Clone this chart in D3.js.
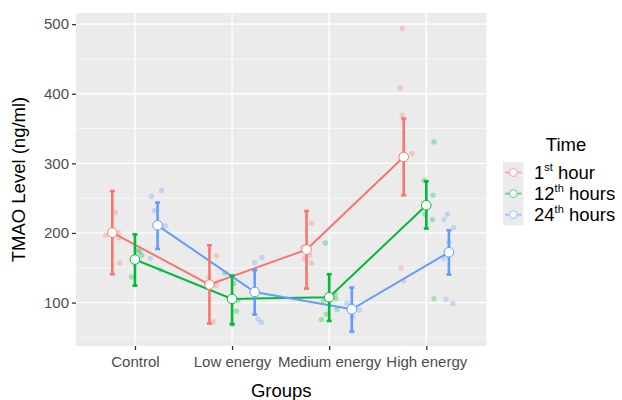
<!DOCTYPE html>
<html lang="en">
<head>
<meta charset="UTF-8">
<title>TMAO Level by group</title>
<script src="https://d3js.org/d3.v7.min.js"></script>
<style>
    body { margin: 0; padding: 0; background: #fff; }
    svg { display: block; font-family: "Liberation Sans", Arial, sans-serif; }
    .axis-title { fill: #000; font-size: 18.5px; }
</style>
</head>
<body>
<div id="chart"></div>
<script>
    const width = 622;
    const height = 400;

    // categories
    const groups = ["Control", "Low energy", "Medium energy", "High energy"];
    const timeKeys = ["1st", "12th", "24th"];
    const colors = ["#F8766D", "#00BA38", "#619CFF"];
    const yTicks = [100, 200, 300, 400, 500];

    // group means and error bar limits (ng/ml)
    const mean1st  = [200.5, 125.9, 176.1, 309.2];
    const mean12th = [161.8, 105.2, 107.6, 239.8];
    const mean24th = [211.0, 115.2,  90.4, 172.3];
    const lower1st  = [140.7, 69.8, 120.1, 254.2];
    const upper1st  = [260.3, 182.3, 231.6, 364.4];
    const lower12th = [124.4, 68.8, 73.6, 206.3];
    const upper12th = [198.0, 138.8, 140.7, 274.3];
    const lower24th = [177.0, 82.8, 58.3, 140.2];
    const upper24th = [243.7, 146.4, 121.6, 203.9];

    // individual samples: group index, value
    const raw1st = [
        [0, 229.3], [0, 196.3], [0, 200.3], [0, 192.8], [0, 156.9],
        [1, 167.5], [1, 136.8], [1, 124.9], [1, 72.4],
        [2, 214.4], [2, 179.9], [2, 168.0], [2, 163.2], [2, 156.9],
        [3, 493.7], [3, 408.3], [3, 369.1], [3, 314.1], [3, 149.7], [3, 130.6]
    ];
    const raw12th = [
        [0, 172.7], [0, 168.0], [0, 136.8], [0, 175.1],
        [1, 142.5], [1, 127.3], [1, 103.3], [1, 87.5], [1, 68.8],
        [2, 185.6], [2, 111.9], [2, 105.7], [2, 101.9], [2, 89.9], [2, 83.2], [2, 75.6],
        [3, 330.7], [3, 275.7], [3, 254.2], [3, 226.9], [3, 219.3], [3, 105.7]
    ];
    const raw24th = [
        [0, 252.7], [0, 260.9], [0, 231.9], [0, 210.1], [0, 163.2], [0, 147.4],
        [1, 157.5], [1, 164.7], [1, 76.0], [1, 71.7],
        [2, 99.4], [2, 95.1], [2, 88.9], [2, 79.3],
        [3, 226.9], [3, 219.3], [3, 207.8], [3, 187.1], [3, 163.2], [3, 104.7], [3, 98.6]
    ];
    // jitter, in category units
    const jitter1st = [0.03, -0.07, 0.065, 0.07, 0.075, 0.075, -0.005, 0.07, 0.04,
        0.05, -0.04, 0.035, -0.02, 0.05, -0.015, -0.035, -0.015, 0.085, -0.025, 0];
    const jitter12th = [0.05, 0.07, -0.035, 0.03, -0.075, 0.02, 0.06, 0.045, 0.005,
        -0.04, 0.06, 0.07, -0.06, 0.08, -0.03, -0.08, 0.08, -0.02, 0.07, -0.015, 0.065, 0.08];
    const jitter24th = [-0.065, 0.04, -0.03, 0.08, -0.075, 0.03, 0, 0.075, 0.035, 0.07,
        -0.05, -0.015, 0.08, 0.005, -0.015, -0.05, 0.05, 0, -0.05, -0.03, 0.04];

    const means = [mean1st, mean12th, mean24th];
    const lowers = [lower1st, lower12th, lower24th];
    const uppers = [upper1st, upper12th, upper24th];
    const raws = [raw1st, raw12th, raw24th];
    const jitters = [jitter1st, jitter12th, jitter24th];
    const dodge = [-0.233, 0, 0.233];

    const panel = { left: 76, right: 486.5, top: 13, bottom: 346 };

    const x = d3.scaleLinear().domain([-0.607, 3.62]).range([panel.left, panel.right]);
    const y = d3.scaleLinear().domain([37.6, 516]).range([panel.bottom, panel.top]);

    const svg = d3.select("#chart").append("svg")
        .attr("width", width)
        .attr("height", height);

    // panel background
    svg.append("rect")
        .attr("x", panel.left).attr("y", panel.top)
        .attr("width", panel.right - panel.left)
        .attr("height", panel.bottom - panel.top)
        .attr("fill", "#EBEBEB");

    // minor grid
    const minor = d3.range(50, 516, 100);
    svg.selectAll(".minor").data(minor).enter().append("line")
        .attr("x1", panel.left).attr("x2", panel.right)
        .attr("y1", d => y(d)).attr("y2", d => y(d))
        .attr("stroke", "#fff").attr("stroke-width", 0.6);

    // major grid
    svg.selectAll(".hmajor").data(yTicks).enter().append("line")
        .attr("x1", panel.left).attr("x2", panel.right)
        .attr("y1", d => y(d)).attr("y2", d => y(d))
        .attr("stroke", "#fff").attr("stroke-width", 1.3);
    svg.selectAll(".vmajor").data(groups).enter().append("line")
        .attr("x1", (d, i) => x(i)).attr("x2", (d, i) => x(i))
        .attr("y1", panel.top).attr("y2", panel.bottom)
        .attr("stroke", "#fff").attr("stroke-width", 1.3);

    // y axis
    const yAxis = svg.append("g")
        .attr("transform", `translate(${panel.left},0)`)
        .call(d3.axisLeft(y).tickValues(yTicks).tickSize(4).tickPadding(3));
    yAxis.select(".domain").remove();
    yAxis.selectAll(".tick line").attr("stroke", "#333").attr("stroke-width", 1.3);
    yAxis.selectAll(".tick text")
        .attr("fill", "#4D4D4D")
        .style("font-size", "15px")
        .style("font-family", "'Liberation Sans', Arial, sans-serif");

    // x axis
    const xAxis = svg.append("g")
        .attr("transform", `translate(0,${panel.bottom})`)
        .call(d3.axisBottom(x).tickValues([0, 1, 2, 3]).tickFormat(i => groups[i]).tickSize(4).tickPadding(6));
    xAxis.select(".domain").remove();
    xAxis.selectAll(".tick line").attr("stroke", "#333").attr("stroke-width", 1.3);
    xAxis.selectAll(".tick text")
        .attr("fill", "#4D4D4D")
        .style("font-size", "15px")
        .style("font-family", "'Liberation Sans', Arial, sans-serif");

    // individual samples
    timeKeys.forEach((t, k) => {
        svg.append("g").selectAll("circle")
            .data(raws[k]).enter().append("circle")
            .attr("cx", (d, i) => x(d[0] + dodge[k] + jitters[k][i]))
            .attr("cy", d => y(d[1]))
            .attr("r", 2.7)
            .attr("fill", colors[k])
            .attr("opacity", 0.3);
    });

    // lines through the means
    const line = d3.line().x(d => x(d[0])).y(d => y(d[1]));
    timeKeys.forEach((t, k) => {
        const pts = means[k].map((m, i) => [i + dodge[k], m]);
        svg.append("path")
            .attr("d", line(pts))
            .attr("fill", "none")
            .attr("stroke", colors[k])
            .attr("stroke-width", 2);
    });

    // error bars
    timeKeys.forEach((t, k) => {
        const g = svg.append("g").attr("stroke", colors[k]).attr("stroke-width", 2.6);
        groups.forEach((gr, i) => {
            const cx = x(i + dodge[k]);
            g.append("line").attr("x1", cx).attr("x2", cx)
                .attr("y1", y(lowers[k][i])).attr("y2", y(uppers[k][i]));
            [lowers[k][i], uppers[k][i]].forEach(v => {
                g.append("line").attr("x1", cx - 2.5).attr("x2", cx + 2.5)
                    .attr("y1", y(v)).attr("y2", y(v));
            });
        });
    });

    // mean points
    timeKeys.forEach((t, k) => {
        svg.append("g").selectAll("circle")
            .data(means[k]).enter().append("circle")
            .attr("cx", (d, i) => x(i + dodge[k]))
            .attr("cy", d => y(d))
            .attr("r", 4.8)
            .attr("fill", "#fff")
            .attr("stroke", colors[k])
            .attr("stroke-width", 1);
    });

    // axis titles
    svg.append("text")
        .attr("class", "axis-title")
        .attr("x", (panel.left + panel.right) / 2)
        .attr("y", 397)
        .attr("text-anchor", "middle")
        .text("Groups");
    svg.append("text")
        .attr("class", "axis-title")
        .attr("transform", `translate(25,${(panel.top + panel.bottom) / 2}) rotate(-90)`)
        .attr("text-anchor", "middle")
        .text("TMAO Level (ng/ml)");

    // legend
    const legend = svg.append("g").attr("transform", "translate(503,162)");
    legend.append("text")
        .attr("class", "axis-title")
        .attr("x", 63).attr("y", -11)
        .attr("text-anchor", "middle")
        .text("Time");
    const legendText = [["1", "st", " hour"], ["12", "th", " hours"], ["24", "th", " hours"]];
    legendText.forEach((lab, k) => {
        const row = legend.append("g").attr("transform", `translate(0,${k * 21.1})`);
        row.append("rect").attr("width", 20.5).attr("height", 21.1).attr("fill", "#EBEBEB");
        const key = row.append("g").attr("opacity", 0.55);
        key.append("line").attr("x1", 2).attr("x2", 18.5)
            .attr("y1", 10.5).attr("y2", 10.5)
            .attr("stroke", colors[k]).attr("stroke-width", 1.8);
        key.append("circle").attr("cx", 10.3).attr("cy", 10.5).attr("r", 4)
            .attr("fill", "#fff").attr("stroke", colors[k]).attr("stroke-width", 1);
        const txt = row.append("text")
            .attr("x", 31).attr("y", 17)
            .attr("fill", "#000")
            .attr("font-size", "18.5px");
        txt.append("tspan").text(lab[0]);
        txt.append("tspan").attr("dy", -8).attr("font-size", "11px").text(lab[1]);
        txt.append("tspan").attr("dy", 8).text(lab[2]);
    });
</script>
</body>
</html>
